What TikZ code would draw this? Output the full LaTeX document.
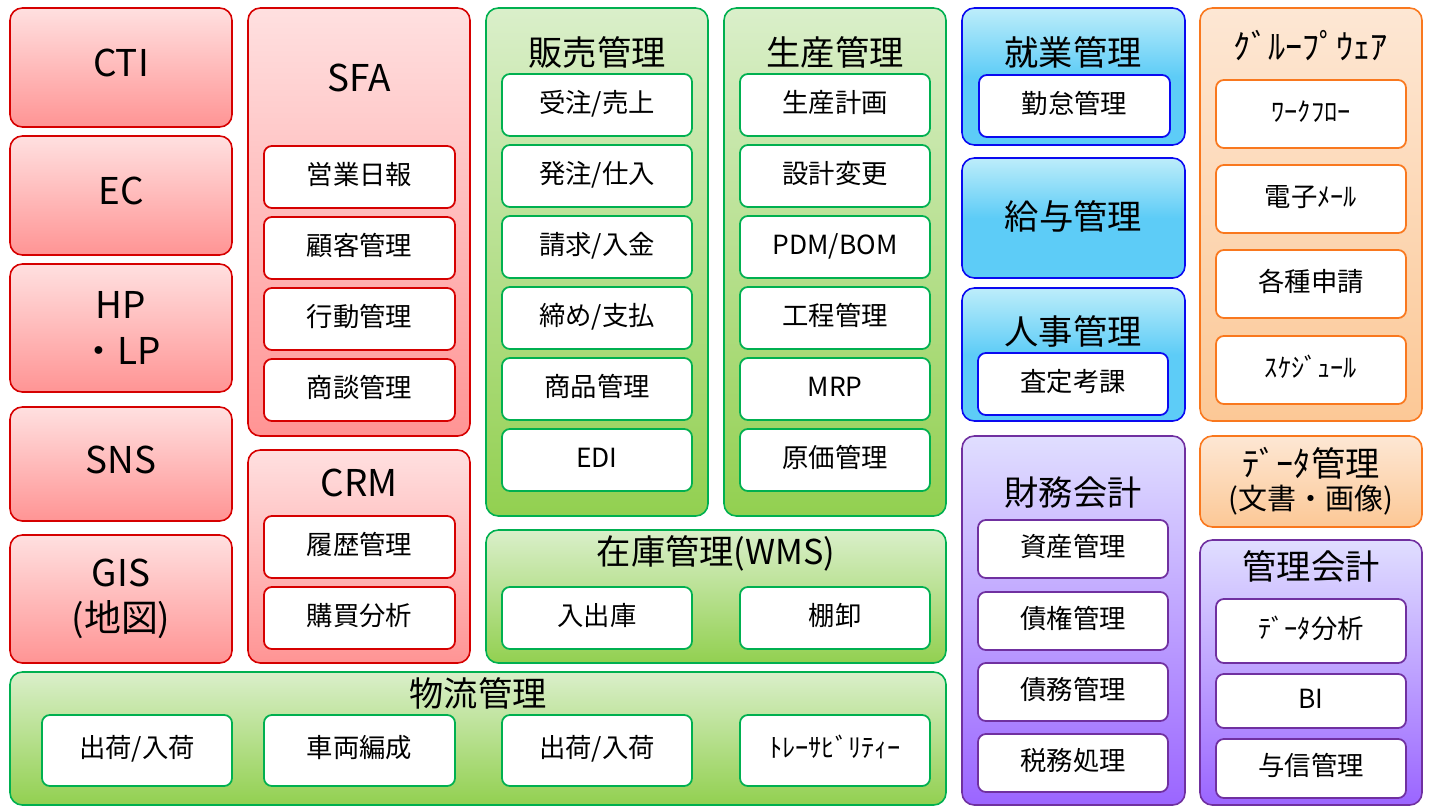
\documentclass[tikz,border=0pt]{standalone}
\usepackage{fontspec}
\setmainfont{Noto Sans CJK JP}
\usepackage{tikz}

\definecolor{redtop}{HTML}{FFE0E0}
\definecolor{redbot}{HTML}{FF9494}
\definecolor{redline}{HTML}{D60000}
\definecolor{greentop}{HTML}{DAEFCA}
\definecolor{greenbot}{HTML}{92D050}
\definecolor{greenline}{HTML}{00B050}
\definecolor{bluetop}{HTML}{BDEDFA}
\definecolor{bluebot}{HTML}{5DCCF7}
\definecolor{blueline}{HTML}{0A0AF0}
\definecolor{orangetop}{HTML}{FDE7D4}
\definecolor{orangebot}{HTML}{FCC896}
\definecolor{orangeline}{HTML}{F9781E}
\definecolor{purptop}{HTML}{E0DEFF}
\definecolor{purpbot}{HTML}{9B65FF}
\definecolor{purpline}{HTML}{7030A0}

% box from (x1,y1) to (x2,y2), pixel units
\newcommand{\panel}[7]{%
  \node[#2, minimum width={(#5-#3)*0.02cm}, minimum height={(#6-#4)*0.02cm}]
    (#1) at ({(#3+#5)/2},{(#4+#6)/2}) {#7};}

\tikzset{
  outer/.style={rounded corners=7pt, line width=0.9pt, inner sep=0pt, outer sep=0pt, align=center},
  redbox/.style={outer, draw=redline, top color=redtop, bottom color=redbot},
  greenbox/.style={outer, draw=greenline, top color=greentop, bottom color=greenbot},
  bluebox/.style={outer, draw=blueline, top color=bluetop, bottom color=bluebot, middle color=bluebot},
  orangebox/.style={outer, draw=orangeline, top color=orangetop, bottom color=orangebot},
  purpbox/.style={outer, draw=purpline, top color=purptop, bottom color=purpbot},
  sub/.style={rounded corners=4.5pt, line width=1pt, fill=white, inner sep=0pt, outer sep=0pt,
    font=\fontsize{15}{18}\selectfont, text height=13.2pt, text depth=5.2pt},
  redsub/.style={sub, draw=redline},
  greensub/.style={sub, draw=greenline},
  bluesub/.style={sub, draw=blueline},
  orangesub/.style={sub, draw=orangeline},
  purpsub/.style={sub, draw=purpline},
  bigtitle/.style={font=\fontsize{21}{26}\selectfont},
  title/.style={font=\fontsize{19.5}{23}\selectfont, inner sep=0pt},
  lift/.style={text height=18.5pt, text depth=7.7pt}
}

\begin{document}
\begin{tikzpicture}[x=0.02cm, y=-0.02cm]
\useasboundingbox (0,0) rectangle (1430,808);

% left column
\panel{cti}{redbox, bigtitle, lift}{10}{8}{232}{127}{CTI}
\panel{ec}{redbox, bigtitle, lift}{10}{136}{232}{255}{EC}
\panel{hp}{redbox, bigtitle}{10}{264}{232}{392}{HP\\・LP}
\panel{sns}{redbox, bigtitle, lift}{10}{407}{232}{521}{SNS}
\panel{gis}{redbox, bigtitle}{10}{535}{232}{663}{GIS\\(地図)}

% SFA / CRM
\panel{sfa}{redbox}{248}{8}{470}{436}{}
\node[bigtitle] (sfaT) at (359,78) {SFA};
\panel{eigyo}{redsub}{264}{146}{455}{208}{営業日報}
\panel{kokyaku}{redsub}{264}{217}{455}{279}{顧客管理}
\panel{kodo}{redsub}{264}{288}{455}{350}{行動管理}
\panel{shodan}{redsub}{264}{359}{455}{421}{商談管理}
\panel{crm}{redbox}{248}{450}{470}{663}{}
\node[bigtitle] (crmT) at (359,483) {CRM};
\panel{rireki}{redsub}{264}{516}{455}{578}{履歴管理}
\panel{kobai}{redsub}{264}{587}{455}{649}{購買分析}

% 販売管理
\panel{hanbai}{greenbox}{486}{8}{708}{516}{}
\node[title] (hanbaiT) at (597,52) {販売管理};
\panel{juchu}{greensub}{502}{74}{692}{136}{受注/売上}
\panel{hachu}{greensub}{502}{145}{692}{207}{発注/仕入}
\panel{seikyu}{greensub}{502}{216}{692}{278}{請求/入金}
\panel{shime}{greensub}{502}{287}{692}{349}{締め/支払}
\panel{shohin}{greensub}{502}{358}{692}{420}{商品管理}
\panel{edi}{greensub}{502}{429}{692}{491}{EDI}

% 生産管理
\panel{seisan}{greenbox}{724}{8}{946}{516}{}
\node[title] (seisanT) at (835,52) {生産管理};
\panel{keikaku}{greensub}{740}{74}{930}{136}{生産計画}
\panel{sekkei}{greensub}{740}{145}{930}{207}{設計変更}
\panel{pdm}{greensub}{740}{216}{930}{278}{PDM/BOM}
\panel{kotei}{greensub}{740}{287}{930}{349}{工程管理}
\panel{mrp}{greensub}{740}{358}{930}{420}{MRP}
\panel{genka}{greensub}{740}{429}{930}{491}{原価管理}

% 在庫管理
\panel{zaiko}{greenbox}{486}{530}{946}{663}{}
\node[title] (zaikoT) at (716,553) {在庫管理(WMS)};
\panel{nyushukko}{greensub}{502}{587}{692}{649}{入出庫}
\panel{tanaoroshi}{greensub}{740}{587}{930}{649}{棚卸}

% 物流管理
\panel{butsuryu}{greenbox}{10}{672}{946}{805}{}
\node[title] (butsuryuT) at (478,693) {物流管理};
\panel{shukka}{greensub}{42}{715}{232}{786}{出荷/入荷}
\panel{sharyo}{greensub}{264}{715}{455}{786}{車両編成}
\panel{shukkab}{greensub}{502}{715}{692}{786}{出荷/入荷}
\panel{trace}{greensub}{740}{715}{930}{786}{ﾄﾚｰｻﾋﾞﾘﾃｨｰ}

% 就業・給与・人事
\panel{shugyo}{bluebox}{962}{8}{1185}{145}{}
\node[title] (shugyoT) at (1073,52) {就業管理};
\panel{kintai}{bluesub}{979}{75}{1170}{137}{勤怠管理}
\panel{kyuyo}{bluebox, title, text height=17.2pt, text depth=4.5pt}{962}{158}{1185}{278}{給与管理}
\panel{jinji}{bluebox}{962}{288}{1185}{421}{}
\node[title] (jinjiT) at (1073,331) {人事管理};
\panel{satei}{bluesub}{978}{353}{1168}{415}{査定考課}

% 財務会計
\panel{zaimu}{purpbox}{962}{436}{1185}{805}{}
\node[title] (zaimuT) at (1073,493) {財務会計};
\panel{shisan}{purpsub}{978}{520}{1168}{578}{資産管理}
\panel{saiken}{purpsub}{978}{592}{1168}{650}{債権管理}
\panel{saimu}{purpsub}{978}{663}{1168}{721}{債務管理}
\panel{zeimu}{purpsub}{978}{734}{1168}{792}{税務処理}

% グループウェア
\panel{group}{orangebox}{1200}{8}{1422}{421}{}
\node[title] (groupT) at (1311,46) {ｸﾞﾙｰﾌﾟｳｪｱ};
\panel{workflow}{orangesub}{1216}{80}{1406}{148}{ﾜｰｸﾌﾛｰ}
\panel{mail}{orangesub}{1216}{165}{1406}{233}{電子ﾒｰﾙ}
\panel{shinsei}{orangesub}{1216}{250}{1406}{318}{各種申請}
\panel{schedule}{orangesub}{1216}{336}{1406}{404}{ｽｹｼﾞｭｰﾙ}

% データ管理
\panel{data}{orangebox}{1200}{436}{1422}{527}{}
\node[title] (dataT) at (1311,463) {ﾃﾞｰﾀ管理};
\node[font=\fontsize{16.5}{20}\selectfont, inner sep=0pt] (dataS) at (1311,500) {(文書・画像)};

% 管理会計
\panel{kanri}{purpbox}{1200}{540}{1422}{805}{}
\node[title] (kanriT) at (1311,566) {管理会計};
\panel{bunseki}{purpsub}{1216}{599}{1406}{663}{ﾃﾞｰﾀ分析}
\panel{bi}{purpsub}{1216}{674}{1406}{728}{BI}
\panel{yoshin}{purpsub}{1216}{739}{1406}{798}{与信管理}
\end{tikzpicture}
\end{document}
